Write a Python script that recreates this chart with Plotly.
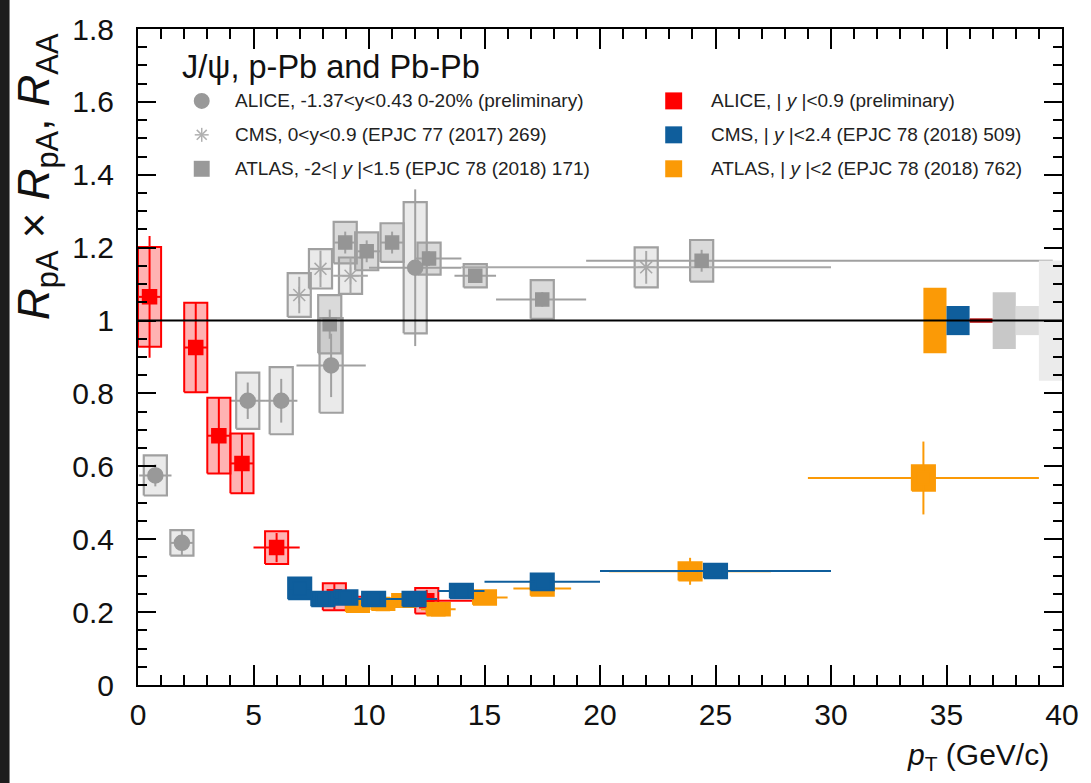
import plotly.graph_objects as go

# ---------------- data ----------------
# ALICE Pb-Pb, |y|<0.9 (preliminary)
alice_pbpb_pt = [0.5, 2.5, 3.5, 4.5, 6.0, 8.5, 12.5]
alice_pbpb_r = [1.065, 0.926, 0.684, 0.608, 0.377, 0.242, 0.231]
alice_pbpb_ptw = [0.5, 0.5, 0.5, 0.5, 1.0, 1.5, 2.5]
alice_pbpb_stat = [0.167, 0.123, 0.104, 0.082, 0.04, 0.035, 0.03]
alice_pbpb_syst = [0.137, 0.123, 0.104, 0.082, 0.045, 0.037, 0.035]

# CMS Pb-Pb, |y|<2.4
cms_pbpb_pt = [7.0, 8.0, 9.0, 10.2, 11.95, 14.0, 17.5, 25.0]
cms_pbpb_r = [0.265, 0.236, 0.24, 0.236, 0.236, 0.258, 0.283, 0.313]
cms_pbpb_ptw = [0.5, 0.5, 0.5, 0.75, 1.0, 1.0, 2.5, 5.0]
cms_pbpb_stat = [0.015, 0.01, 0.01, 0.01, 0.01, 0.01, 0.012, 0.012]
cms_pbpb_syst = [0.03, 0.02, 0.02, 0.02, 0.02, 0.02, 0.023, 0.02]

# ATLAS Pb-Pb, |y|<2
atlas_pbpb_pt = [9.5, 10.6, 11.5, 13.0, 15.0, 17.5, 23.9, 34.0]
atlas_pbpb_r = [0.218, 0.222, 0.232, 0.208, 0.24, 0.265, 0.312, 0.568]
atlas_pbpb_ptw = [0.5, 0.5, 0.5, 0.75, 1.0, 1.25, 3.5, 5.0]
atlas_pbpb_stat = [0.01, 0.01, 0.01, 0.012, 0.012, 0.015, 0.037, 0.1]
atlas_pbpb_syst = [0.018, 0.016, 0.018, 0.017, 0.02, 0.02, 0.025, 0.035]

# ALICE p-Pb, -1.37<y<0.43, 0-20%
alice_ppb_pt = [0.75, 1.9, 4.75, 6.2, 8.36, 12.0]
alice_ppb_r = [0.575, 0.39, 0.78, 0.78, 0.877, 1.145]
alice_ppb_ptw = [0.7, 0.5, 0.75, 0.7, 1.5, 2.0]
alice_ppb_stat = [0.03, 0.035, 0.05, 0.06, 0.087, 0.215]
alice_ppb_syst = [0.055, 0.035, 0.077, 0.092, 0.13, 0.18]

# CMS p-Pb, 0<y<0.9
cms_ppb_pt = [6.98, 7.9, 9.2, 22.0]
cms_ppb_r = [1.07, 1.142, 1.123, 1.146]
cms_ppb_ptw = [0.5, 0.5, 0.75, 8.0]
cms_ppb_stat = [0.05, 0.05, 0.05, 0.045]
cms_ppb_syst = [0.06, 0.054, 0.05, 0.055]

# ATLAS p-Pb, -2<|y|<1.5
atlas_ppb_pt = [8.3, 8.97, 9.9, 11.0, 12.6, 14.6, 17.5, 24.4]
atlas_ppb_r = [0.99, 1.214, 1.19, 1.214, 1.17, 1.123, 1.058, 1.164]
atlas_ppb_ptlo = [0.3, 0.47, 0.4, 0.5, 0.6, 0.9, 2.0, 5.0]
atlas_ppb_pthi = [0.3, 0.53, 0.6, 0.5, 1.4, 0.9, 1.9, 15.2]
atlas_ppb_stat = [0.04, 0.03, 0.03, 0.03, 0.02, 0.015, 0.02, 0.03]
atlas_ppb_syst = [0.08, 0.057, 0.052, 0.053, 0.044, 0.032, 0.053, 0.057]

# global (normalisation) uncertainties drawn around unity
glob_lo = [34, 35, 36, 37, 38, 39]
glob_hi = [35, 36, 37, 38, 39, 40]
glob_unc = [0.09, 0.04, 0.006, 0.078, 0.04, 0.165]

# ---------------- style ----------------
RED = "#ff0000"
BLUE = "#0f5e9c"
ORANGE = "#fb9a06"
GRAY = "#999999"
FRAME = "#1d1d1d"
BOX_HW = 0.5
FONT = "Liberation Sans, Arial, Helvetica, sans-serif"

W, H = 1091, 783
L, R, T, B = 138, 25, 28, 98
PW, PH = W - L - R, H - T - B


def px(xp):
    return (xp - L) / PW


def py(yp):
    return (H - B - yp) / PH


def box_path(x, y, hh, hw=BOX_HW):
    xs, ys = [], []
    for xi, yi, h in zip(x, y, hh):
        xs += [xi - hw, xi + hw, xi + hw, xi - hw, xi - hw, None]
        ys += [yi - h, yi - h, yi + h, yi + h, yi - h, None]
    return xs, ys


fig = go.Figure()


def add_boxes(x, y, hh, fill, line, lw=2):
    bx, by = box_path(x, y, hh)
    fig.add_trace(go.Scatter(x=bx, y=by, mode="lines", fill="toself",
                             fillcolor=fill, line=dict(color=line, width=lw),
                             hoverinfo="skip", showlegend=False))


def add_points(x, y, xlo, xhi, stat, color, symbol, size, mcolor=None, lw=2):
    fig.add_trace(go.Scatter(
        x=x, y=y, mode="markers",
        marker=dict(symbol=symbol, size=size, color=mcolor or color,
                    line=dict(color=mcolor or color, width=1.5)),
        error_x=dict(type="data", symmetric=False, array=xhi, arrayminus=xlo,
                     width=0, thickness=lw, color=color),
        error_y=dict(type="data", array=stat, width=0, thickness=lw, color=color),
        showlegend=False, hoverinfo="x+y"))


# p-Pb (grey)
add_boxes(alice_ppb_pt, alice_ppb_r, alice_ppb_syst, "rgba(160,160,160,0.22)", "#a0a0a0", 2.2)
add_boxes(cms_ppb_pt, cms_ppb_r, cms_ppb_syst, "rgba(160,160,160,0.22)", "#a0a0a0", 2.2)
add_boxes(atlas_ppb_pt, atlas_ppb_r, atlas_ppb_syst, "rgba(150,150,150,0.35)", "#a0a0a0", 2.2)
add_points(alice_ppb_pt, alice_ppb_r, alice_ppb_ptw, alice_ppb_ptw, alice_ppb_stat,
           "#a0a0a0", "circle", 15, GRAY)
add_points(cms_ppb_pt, cms_ppb_r, cms_ppb_ptw, cms_ppb_ptw, cms_ppb_stat,
           "#a8a8a8", "asterisk-open", 14, "#a8a8a8")
add_points(atlas_ppb_pt, atlas_ppb_r, atlas_ppb_ptlo, atlas_ppb_pthi, atlas_ppb_stat,
           "#a0a0a0", "square", 13, "#959595")

# Pb-Pb
add_boxes(alice_pbpb_pt, alice_pbpb_r, alice_pbpb_syst, "rgba(255,0,0,0.3)", RED)
add_points(alice_pbpb_pt, alice_pbpb_r, alice_pbpb_ptw, alice_pbpb_ptw, alice_pbpb_stat,
           RED, "square", 14)
add_boxes(atlas_pbpb_pt, atlas_pbpb_r, atlas_pbpb_syst, ORANGE, ORANGE)
add_points(atlas_pbpb_pt, atlas_pbpb_r, atlas_pbpb_ptw, atlas_pbpb_ptw, atlas_pbpb_stat,
           ORANGE, "square", 13)
add_boxes(cms_pbpb_pt, cms_pbpb_r, cms_pbpb_syst, BLUE, BLUE)
add_points(cms_pbpb_pt, cms_pbpb_r, cms_pbpb_ptw, cms_pbpb_ptw, cms_pbpb_stat,
           BLUE, "square", 13)

# global uncertainty boxes at unity
glob_colors = [ORANGE, BLUE, "#b00000", "#c8c8c8", "#dcdcdc", "#ebebeb"]
for lo, hi, u, c in zip(glob_lo, glob_hi, glob_unc, glob_colors):
    fig.add_trace(go.Scatter(x=[lo, hi, hi, lo, lo], y=[1 - u, 1 - u, 1 + u, 1 + u, 1 - u],
                             mode="lines", fill="toself", fillcolor=c,
                             line=dict(width=0, color=c), hoverinfo="skip",
                             showlegend=False))

fig.add_hline(y=1, line=dict(color="black", width=2))

# ---------------- axes ----------------
ytv = [0, 0.2, 0.4, 0.6, 0.8, 1.0, 1.2, 1.4, 1.6, 1.8]
ytt = ["0", "0.2", "0.4", "0.6", "0.8", "1", "1.2", "1.4", "1.6", "1.8"]
fig.update_xaxes(range=[0, 40], tickvals=list(range(0, 41, 5)), ticks="inside",
                 ticklen=20, tickwidth=2, tickcolor="black", showline=True,
                 linecolor="black", linewidth=2, mirror="ticks", showgrid=False,
                 zeroline=False, tickfont=dict(family=FONT, size=30, color="#111"),
                 ticklabelstandoff=2,
                 minor=dict(ticks="inside", dtick=1, tick0=0, ticklen=10,
                            tickwidth=2, tickcolor="black", showgrid=False))
fig.update_yaxes(range=[0, 1.8], tickvals=ytv, ticktext=ytt, ticks="inside",
                 ticklen=18, tickwidth=2, tickcolor="black", showline=True,
                 linecolor="black", linewidth=2, mirror="ticks", showgrid=False,
                 zeroline=False, tickfont=dict(family=FONT, size=30, color="#111"),
                 ticklabelstandoff=16,
                 minor=dict(ticks="inside", dtick=0.05, tick0=0, ticklen=9,
                            tickwidth=2, tickcolor="black", showgrid=False))

# ---------------- legend (drawn by hand) ----------------
shapes = [
    # dark frame along the top and left edges of the page
    dict(type="rect", xref="paper", yref="paper", x0=px(-5), x1=px(W + 5),
         y0=py(7), y1=py(-5), fillcolor=FRAME, line=dict(width=0), layer="above"),
    dict(type="rect", xref="paper", yref="paper", x0=px(-5), x1=px(9),
         y0=py(H + 5), y1=py(-5), fillcolor=FRAME, line=dict(width=0), layer="above"),
]
annotations = []

TITLE_Y = 66
ROWS = [100, 134, 168]
C1X, C1T = 202, 233
C2X, C2T = 676, 711

annotations.append(dict(text="J/ψ, p-Pb and Pb-Pb", x=px(180), y=py(TITLE_Y),
                        xref="paper", yref="paper", xanchor="left", yanchor="middle",
                        showarrow=False, font=dict(family=FONT, size=32.5, color="#111")))

left_labels = ["ALICE, -1.37<y<0.43 0-20% (preliminary)",
               "CMS, 0<y<0.9 (EPJC 77 (2017) 269)",
               "ATLAS, -2<| <i>y</i> |<1.5 (EPJC 78 (2018) 171)"]
right_labels = ["ALICE, | <i>y</i> |<0.9 (preliminary)",
                "CMS, | <i>y</i> |<2.4 (EPJC 78 (2018) 509)",
                "ATLAS, | <i>y</i> |<2 (EPJC 78 (2018) 762)"]
for row, txt in zip(ROWS, left_labels):
    annotations.append(dict(text=txt, x=px(C1T), y=py(row), xref="paper", yref="paper",
                            xanchor="left", yanchor="middle", showarrow=False,
                            font=dict(family=FONT, size=19, color="#222")))
for row, txt in zip(ROWS, right_labels):
    annotations.append(dict(text=txt, x=px(C2T), y=py(row), xref="paper", yref="paper",
                            xanchor="left", yanchor="middle", showarrow=False,
                            font=dict(family=FONT, size=19, color="#222")))


def key_rect(cx, cy, half, color):
    return dict(type="rect", xref="paper", yref="paper",
                x0=px(cx - half), x1=px(cx + half), y0=py(cy + half), y1=py(cy - half),
                fillcolor=color, line=dict(width=0))


shapes.append(dict(type="circle", xref="paper", yref="paper",
                   x0=px(C1X - 8), x1=px(C1X + 8), y0=py(ROWS[0] + 8), y1=py(ROWS[0] - 8),
                   fillcolor=GRAY, line=dict(width=0)))
# asterisk key
for dx, dy in [(7, 0), (0, 7), (5, 5), (5, -5)]:
    shapes.append(dict(type="line", xref="paper", yref="paper",
                       x0=px(C1X - dx), x1=px(C1X + dx), y0=py(ROWS[1] - dy), y1=py(ROWS[1] + dy),
                       line=dict(color="#b0b0b0", width=1.5)))
shapes.append(key_rect(C1X, ROWS[2], 8, GRAY))
shapes.append(key_rect(C2X, ROWS[0], 8.5, RED))
shapes.append(key_rect(C2X, ROWS[1], 8.5, BLUE))
shapes.append(key_rect(C2X, ROWS[2], 8.5, ORANGE))

# axis titles
annotations.append(dict(text="<i>p</i><sub>T</sub> (GeV/c)", x=px(1055), y=py(757),
                        xref="paper", yref="paper", xanchor="right", yanchor="middle",
                        showarrow=False, font=dict(family=FONT, size=30, color="#111")))
annotations.append(dict(text="<i>R</i><sub>pA</sub> × <i>R</i><sub>pA</sub>, <i>R</i><sub>AA</sub>",
                        x=px(37), y=py(30), xref="paper", yref="paper", textangle=-90,
                        xanchor="center", yanchor="top", showarrow=False,
                        font=dict(family=FONT, size=44, color="#111")))

fig.update_layout(width=W, height=H, margin=dict(l=L, r=R, t=T, b=B),
                  paper_bgcolor="white", plot_bgcolor="white",
                  shapes=shapes, annotations=annotations, showlegend=False)

fig.write_html("out.html")
